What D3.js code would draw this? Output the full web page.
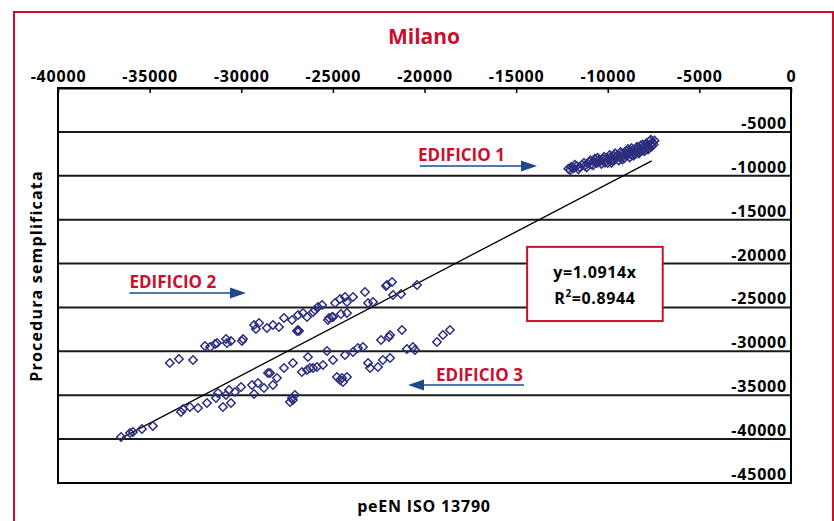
<!DOCTYPE html>
<html>
<head>
<meta charset="utf-8">
<script src="https://cdn.jsdelivr.net/npm/d3@7"></script>
<style>
  body { margin: 0; background: #fff; }
  svg text { font-family: "Open Sans", "Noto Sans", sans-serif; font-weight: 700; }
</style>
</head>
<body>
<div id="chart"></div>
<script>
// axis ticks
const xTicks = [-40000, -35000, -30000, -25000, -20000, -15000, -10000, -5000, 0];
const yTicks = [-5000, -10000, -15000, -20000, -25000, -30000, -35000, -40000, -45000];

// [peEN ISO 13790, procedura semplificata]
const edificio1 = [
  [-12150, -9200], [-12050, -9350], [-12000, -9000], [-11850, -9150], [-11800, -8750],
  [-11700, -8900], [-11600, -9250], [-11550, -9000], [-11400, -8750], [-11300, -8550],
  [-11250, -8850], [-11150, -9050], [-11100, -8600], [-11000, -8450], [-10950, -8250],
  [-10900, -8700], [-10800, -8800], [-10750, -8400], [-10700, -8050], [-10600, -8550],
  [-10550, -7950], [-10500, -8200], [-10400, -8350], [-10350, -8650], [-10250, -8100],
  [-10200, -7850], [-10150, -8500], [-10050, -8000], [-10000, -8550], [-9950, -8200],
  [-9900, -7650], [-9850, -7900], [-9800, -8550], [-9750, -8300], [-9700, -8100],
  [-9650, -7750], [-9600, -7450], [-9550, -8000], [-9450, -7650], [-9400, -8250],
  [-9350, -7900], [-9300, -7300], [-9250, -7500], [-9200, -8150], [-9150, -7750],
  [-9100, -8000], [-9050, -7400], [-9000, -7150], [-8950, -7650], [-8900, -6950],
  [-8850, -7250], [-8800, -7900], [-8750, -7550], [-8700, -6850], [-8650, -7100],
  [-8600, -7700], [-8550, -7350], [-8500, -7550], [-8450, -7000], [-8400, -6700],
  [-8350, -7300], [-8300, -7450], [-8250, -6900], [-8200, -6550], [-8150, -7150],
  [-8100, -6450], [-8050, -6750], [-8000, -7200], [-7950, -7000], [-7900, -6300],
  [-7850, -6600], [-7800, -7000], [-7750, -6850], [-7700, -6050], [-7650, -6400],
  [-7650, -5900], [-7600, -6650], [-7550, -6200], [-7500, -6450], [-7450, -6000]
];

const edificio2 = [
  [-33900, -31330], [-33400, -30870], [-32630, -30990], [-31980, -29390], [-31700, -29500],
  [-31430, -29160], [-31320, -29050], [-30830, -28590], [-30780, -29050], [-30560, -28820],
  [-29960, -28820], [-29900, -28590], [-29300, -27000], [-29200, -27450], [-29030, -26770],
  [-28600, -27340], [-28270, -27000], [-27940, -27230], [-27670, -26200], [-27230, -26430],
  [-26960, -27680], [-26900, -25860], [-26900, -27570], [-26850, -27680], [-26630, -25630],
  [-26410, -26090], [-26080, -25520], [-25980, -25290], [-25810, -24950], [-25590, -24720],
  [-25270, -26430], [-25210, -26200], [-25050, -26090], [-24990, -26090], [-24880, -24490],
  [-24610, -24040], [-24560, -25750], [-24340, -23810], [-24230, -24380], [-24230, -25630],
  [-23900, -23810], [-23250, -23240], [-23080, -24490], [-22810, -24380], [-22100, -22560],
  [-22050, -22440], [-21770, -22100], [-21720, -23580], [-21280, -23470], [-20410, -22440]
];

const edificio3 = [
  [-36560, -39760], [-36070, -39300], [-35910, -39190], [-35420, -38850], [-34820, -38500],
  [-33290, -36910], [-33180, -36570], [-32800, -36340], [-32360, -36450], [-31870, -35890],
  [-31380, -35320], [-31270, -34750], [-31000, -36340], [-30560, -35890], [-30830, -34970],
  [-30670, -34400], [-30340, -34630], [-30010, -34060], [-29410, -33830], [-29300, -34860],
  [-29090, -33610], [-28760, -34180], [-28540, -32470], [-28270, -33830], [-28430, -32470],
  [-28050, -33040], [-27670, -31900], [-27180, -31330], [-26690, -32350], [-26410, -32130],
  [-26360, -30640], [-26250, -31900], [-26080, -31900], [-25870, -31780], [-25540, -31560],
  [-25320, -29960], [-24990, -30990], [-24780, -32920], [-24500, -33040], [-24610, -33260],
  [-24230, -32920], [-24450, -33490], [-24340, -30420], [-23900, -30080], [-23630, -29620],
  [-23360, -29500], [-23080, -31330], [-22970, -31900], [-22540, -31780], [-22270, -30990],
  [-21880, -30760], [-22370, -28710], [-21940, -28370], [-21880, -28140], [-21230, -27570],
  [-20960, -29730], [-20630, -29500], [-20520, -29850], [-19320, -28940], [-18990, -28140],
  [-18610, -27570], [-27230, -35320], [-27070, -34970], [-27340, -35770], [-27180, -35540]
];

// regression through origin
const slope = 1.0914;
const rSquared = 0.8944;
const trendRange = [-36500, -7600];

// annotations (data units)
const labels = [
  { text: "EDIFICIO 1", x: -20350, y: -8320 },
  { text: "EDIFICIO 2", x: -36100, y: -22800 },
  { text: "EDIFICIO 3", x: -19370, y: -33380 }
];
const arrows = [
  { from: -20250, to: -13860, y: -8890 },
  { from: -36100, to: -29740, y: -23350 },
  { from: -14570, to: -20900, y: -33830 }
];
const eqBox = { x: [-14400, -7000], y: [-18100, -26550] };

const W = 834, H = 521;
const red = "#c8102e", navy = "#2b2e7c", arrowBlue = "#1c4a8c";

const svg = d3.select("#chart").append("svg")
  .attr("width", W).attr("height", H);

// outer frame
svg.append("rect")
  .attr("x", 14).attr("y", 12).attr("width", 819).attr("height", 520)
  .attr("fill", "none").attr("stroke", red).attr("stroke-width", 2);

svg.append("text")
  .attr("x", 424).attr("y", 44)
  .attr("text-anchor", "middle")
  .attr("fill", red).attr("font-size", 21)
  .text("Milano");

const x = d3.scaleLinear().domain([-40000, 0]).range([58, 791]);
const y = d3.scaleLinear().domain([-45000, 0]).range([483, 88]);

// horizontal grid lines
svg.append("g")
  .selectAll("line")
  .data(yTicks)
  .join("line")
  .attr("x1", x(-40000)).attr("x2", x(0))
  .attr("y1", d => y(d)).attr("y2", d => y(d))
  .attr("stroke", "#1a1a1a").attr("stroke-width", 2);

// plot frame
svg.append("rect")
  .attr("x", x(-40000)).attr("y", y(0))
  .attr("width", x(0) - x(-40000)).attr("height", y(-45000) - y(0))
  .attr("fill", "none").attr("stroke", "#000").attr("stroke-width", 2);

// top axis
const xAxis = svg.append("g")
  .attr("transform", `translate(0,${y(0)})`)
  .call(d3.axisTop(x).tickValues(xTicks).tickFormat(d => String(d))
    .tickSizeInner(-5).tickSizeOuter(0).tickPadding(6));
xAxis.select(".domain").attr("stroke-width", 2);
xAxis.selectAll(".tick line").attr("stroke-width", 1.5);
xAxis.selectAll("text")
  .attr("font-size", 16).attr("letter-spacing", 0.8).attr("fill", "#000")
  .attr("font-family", null);

// right axis labels (inside the plot)
svg.append("g")
  .selectAll("text")
  .data(yTicks)
  .join("text")
  .attr("x", x(0) - 4)
  .attr("y", d => y(d) - 3)
  .attr("text-anchor", "end")
  .attr("font-size", 16).attr("letter-spacing", 0.8)
  .text(d => String(d));

// trend line
svg.append("line")
  .attr("x1", x(trendRange[0])).attr("y1", y(trendRange[0] * slope))
  .attr("x2", x(trendRange[1])).attr("y2", y(trendRange[1] * slope))
  .attr("stroke", "#000").attr("stroke-width", 1.3);

// points
const diamond = d3.symbol().type(d3.symbolSquare).size(36);
svg.append("g")
  .attr("fill", "none").attr("stroke", navy).attr("stroke-width", 1.5)
  .selectAll("path")
  .data(edificio1.concat(edificio2, edificio3))
  .join("path")
  .attr("d", diamond)
  .attr("transform", d => `translate(${x(d[0])},${y(d[1])}) rotate(45)`);

// annotation labels
svg.append("g")
  .selectAll("text")
  .data(labels)
  .join("text")
  .attr("x", d => x(d.x)).attr("y", d => y(d.y))
  .attr("fill", red).attr("font-size", 17)
  .text(d => d.text);

// arrows
const ag = svg.append("g");
arrows.forEach(a => {
  const x1 = x(a.from), x2 = x(a.to), yy = y(a.y);
  const dir = x2 > x1 ? 1 : -1;
  ag.append("line")
    .attr("x1", x1).attr("x2", x2 - dir * 12)
    .attr("y1", yy).attr("y2", yy)
    .attr("stroke", arrowBlue).attr("stroke-width", 1.5);
  ag.append("path")
    .attr("d", `M${x2},${yy} L${x2 - dir * 16},${yy - 5.5} L${x2 - dir * 16},${yy + 5.5} Z`)
    .attr("fill", arrowBlue);
});

// equation box
const bx0 = x(eqBox.x[0]), bx1 = x(eqBox.x[1]);
const by0 = y(eqBox.y[0]), by1 = y(eqBox.y[1]);
svg.append("rect")
  .attr("x", bx0).attr("y", by0)
  .attr("width", bx1 - bx0).attr("height", by1 - by0)
  .attr("fill", "#fff").attr("stroke", red).attr("stroke-width", 2);
const cx = (bx0 + bx1) / 2;
svg.append("text")
  .attr("x", cx).attr("y", by0 + 31)
  .attr("text-anchor", "middle").attr("font-size", 16).attr("letter-spacing", 0.6)
  .text(`y=${slope}x`);
const r2 = svg.append("text")
  .attr("x", cx).attr("y", by0 + 57)
  .attr("text-anchor", "middle").attr("font-size", 16).attr("letter-spacing", 0.6);
r2.append("tspan").text("R");
r2.append("tspan").attr("font-size", 10).attr("dy", -7).text("2");
r2.append("tspan").attr("dy", 7).text(`=${rSquared}`);

// axis titles
svg.append("text")
  .attr("transform", "translate(42,276) rotate(-90)")
  .attr("text-anchor", "middle").attr("font-size", 16).attr("letter-spacing", 1.2)
  .text("Procedura semplificata");
svg.append("text")
  .attr("x", 424).attr("y", 512)
  .attr("text-anchor", "middle").attr("font-size", 16).attr("letter-spacing", 0.8)
  .text("peEN ISO 13790");
</script>
</body>
</html>
